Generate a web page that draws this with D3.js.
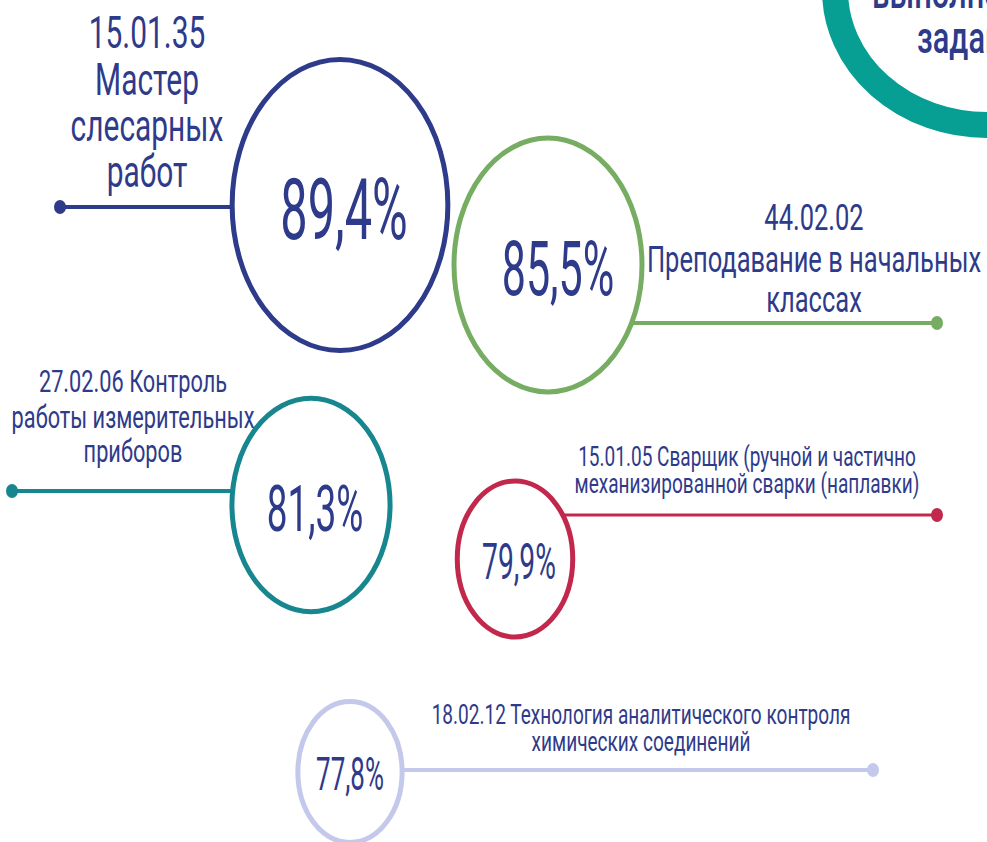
<!DOCTYPE html>
<html>
<head>
<meta charset="utf-8">
<script src="https://cdn.jsdelivr.net/npm/d3@7"></script>
<style>
  body { margin: 0; background: #fff; }
  svg text { font-family: Roboto, "Noto Sans", sans-serif; fill: #2e3a8a; }
</style>
</head>
<body>
<div class="chart"></div>
<script>
  // data
  var codes = ["15.01.35", "44.02.02", "27.02.06", "15.01.05", "18.02.12"];
  var labels = [
    ["15.01.35", "Мастер", "слесарных", "работ"],
    ["44.02.02", "Преподавание в начальных", "классах"],
    ["27.02.06 Контроль", "работы измерительных", "приборов"],
    ["15.01.05 Сварщик (ручной и частично", "механизированной сварки (наплавки)"],
    ["18.02.12 Технология аналитического контроля", "химических соединений"]
  ];
  var values = [89.4, 85.5, 81.3, 79.9, 77.8];
  var colors = ["#2e3a8a", "#76ad62", "#17868e", "#c1284b", "#c4c9eb"];
  var titleLines = ["выполнения", "заданий"];

  var width = 987, height = 842;

  // layout of each bubble (center, which side the leader goes, where the label sits)
  var layout = [
    {cx: 340, cy: 205, side: -1, lineY: 207, end: 60,  lx: 147, ly: [48, 95, 141, 187], fs: 44, lw: 4, px: 4},
    {cx: 548, cy: 265, side: 1,  lineY: 323, end: 937, lx: 814, ly: [230, 272, 312], fs: 37.5, lw: 4, px: 10},
    {cx: 311, cy: 505, side: -1, lineY: 491, end: 12,  lx: 133, ly: [392, 428, 462], fs: 32, lw: 4, px: 4},
    {cx: 515, cy: 559, side: 1,  lineY: 515, end: 937, lx: 747, ly: [466, 493], fs: 28, lw: 3, px: 4},
    {cx: 350, cy: 772, side: 1,  lineY: 770, end: 873, lx: 641, ly: [724, 751], fs: 28, lw: 4, px: 0}
  ];

  var r = d3.scaleLinear().domain([77, 80, 81, 90]).range([50, 58, 78, 110]);
  var pctSize = d3.scaleLinear().domain([50, 110]).range([44, 87]);
  var aspect = 1.35;
  var squeeze = 0.68, squeezePct = 0.57;
  var fmt = function(v){ return d3.format(".1f")(v).replace(".", ",") + "%"; };

  var svg = d3.select(".chart").append("svg")
    .attr("width", width)
    .attr("height", height);

  // big ring at top right (cropped)
  svg.append("ellipse")
    .attr("cx", 987).attr("cy", -10)
    .attr("rx", 152).attr("ry", 135)
    .attr("fill", "none")
    .attr("stroke", "#079e93")
    .attr("stroke-width", 26);

  svg.selectAll(".title")
    .data(titleLines)
    .enter().append("text")
    .attr("class", "title")
    .attr("transform", function(d, i){ return "translate(" + (i ? 917 : 872) + "," + (i ? 53 : 8) + ") scale(0.7,1)"; })
    .style("font-size", "44px")
    .style("font-weight", 500)
    .text(function(d){ return d; });

  var data = values.map(function(v, i){
    var rx = r(v);
    return {value: v, code: codes[i], lines: labels[i], color: colors[i], rx: rx, ry: rx * aspect, L: layout[i]};
  });

  var g = svg.selectAll(".item")
    .data(data)
    .enter().append("g")
    .attr("class", "item");

  // leader lines: start on the ellipse edge
  g.append("line")
    .attr("x1", function(d){
      var dy = (d.L.lineY - d.L.cy) / d.ry;
      return d.L.cx + d.L.side * d.rx * Math.sqrt(Math.max(0, 1 - dy * dy));
    })
    .attr("x2", function(d){ return d.L.end; })
    .attr("y1", function(d){ return d.L.lineY; })
    .attr("y2", function(d){ return d.L.lineY; })
    .attr("stroke", function(d){ return d.color; })
    .attr("stroke-width", function(d){ return d.L.lw; });

  g.append("ellipse")
    .attr("cx", function(d){ return d.L.end; })
    .attr("cy", function(d){ return d.L.lineY; })
    .attr("rx", 6).attr("ry", 7)
    .attr("fill", function(d){ return d.color; });

  g.append("ellipse")
    .attr("cx", function(d){ return d.L.cx; })
    .attr("cy", function(d){ return d.L.cy; })
    .attr("rx", function(d){ return d.rx; })
    .attr("ry", function(d){ return d.ry; })
    .attr("fill", "#fff")
    .attr("stroke", function(d){ return d.color; })
    .attr("stroke-width", 5);

  g.append("text")
    .attr("class", "pct")
    .attr("text-anchor", "middle")
    .attr("transform", function(d){
      var fs = pctSize(d.rx);
      return "translate(" + (d.L.cx + d.L.px) + "," + (d.L.cy + fs * 0.4) + ") scale(" + squeezePct + ",1)";
    })
    .style("font-size", function(d){ return pctSize(d.rx) + "px"; })
    .text(function(d){ return fmt(d.value); });

  g.each(function(d){
    d3.select(this).selectAll(".lbl")
      .data(d.lines)
      .enter().append("text")
      .attr("class", "lbl")
      .attr("text-anchor", "middle")
      .attr("transform", function(t, i){ return "translate(" + d.L.lx + "," + d.L.ly[i] + ") scale(" + squeeze + ",1)"; })
      .style("font-size", d.L.fs + "px")
      .text(function(t){ return t; });
  });
</script>
</body>
</html>
